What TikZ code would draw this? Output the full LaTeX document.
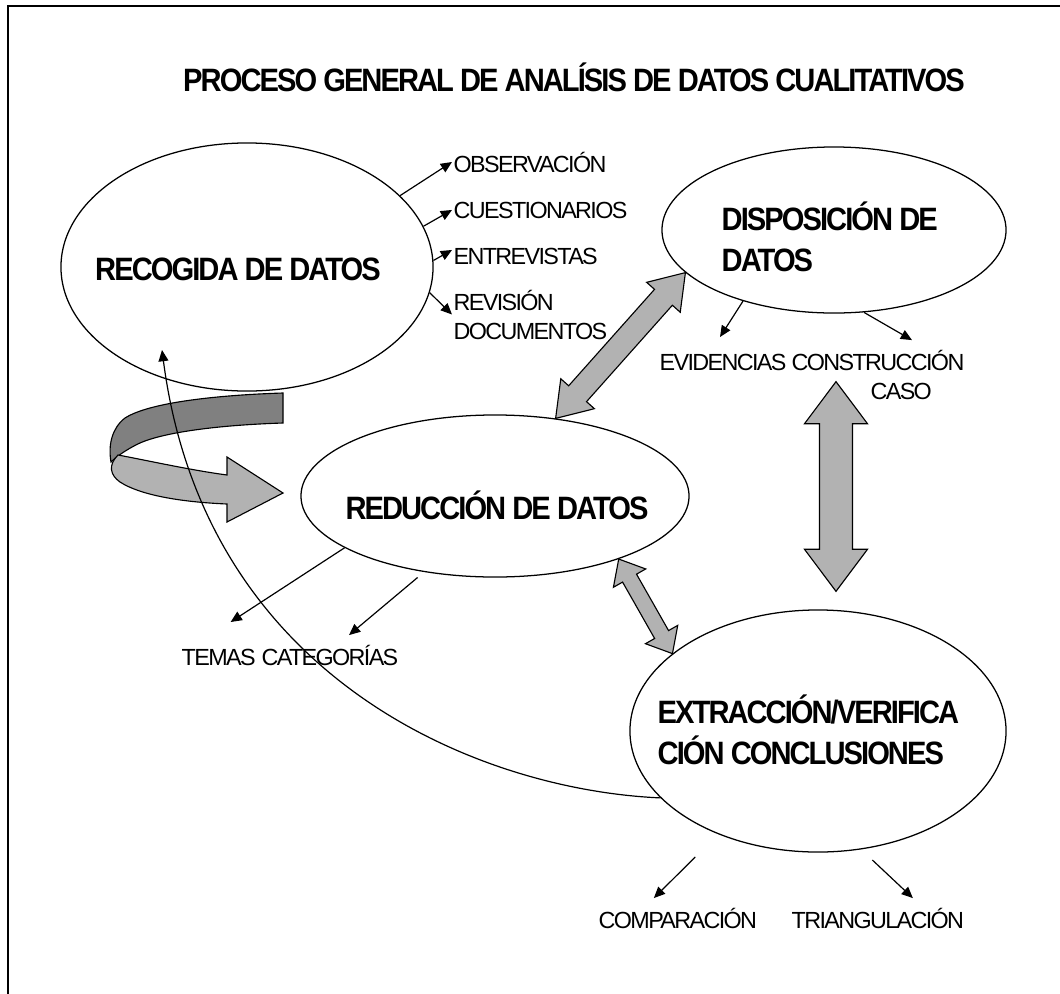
\documentclass[tikz,border=0pt]{standalone}
\usepackage{fontspec}
\setmainfont{Liberation Sans}
\newfontfamily\tightsf{Liberation Sans}[LetterSpace=-7]
\newfontfamily\condsf{Liberation Sans}[FakeStretch=0.9, LetterSpace=-6]
\usetikzlibrary{shapes.geometric,arrows.meta,calc}

\tikzset{
  bubble/.style={ellipse, draw, line width=0.9pt, inner sep=0pt},
  bigtext/.style={font=\condsf\bfseries\fontsize{23}{29}\selectfont, inner sep=1pt},
  smalltext/.style={font=\tightsf\fontsize{16.6}{20.6}\selectfont, inner sep=1pt},
  thinarrow/.style={line width=0.85pt, -{Triangle[length=8pt,width=7pt]}},
  blockarrow/.style={draw, line width=0.8pt, fill=black!30, line join=miter},
}

% gray double arrow: from, to, half shaft, half head, head length
\newcommand{\dblarrow}[5]{%
  \draw[blockarrow] let \p1=($(#2)-(#1)$), \n1={atan2(\y1,\x1)} in
    (#1) -- ($(#1)+(\n1:#5)+(\n1+90:#4)$) -- ($(#1)+(\n1:#5)+(\n1+90:#3)$)
    -- ($(#2)+(\n1+180:#5)+(\n1+90:#3)$) -- ($(#2)+(\n1+180:#5)+(\n1+90:#4)$)
    -- (#2) -- ($(#2)+(\n1+180:#5)+(\n1-90:#4)$) -- ($(#2)+(\n1+180:#5)+(\n1-90:#3)$)
    -- ($(#1)+(\n1:#5)+(\n1-90:#3)$) -- ($(#1)+(\n1:#5)+(\n1-90:#4)$) -- cycle;}

\begin{document}
\begin{tikzpicture}[x=0.025cm, y=-0.025cm]
  \useasboundingbox (0,0) rectangle (1060,994);
  \draw[line width=1.4pt] (8,994) -- (8,6) -- (1060,6);

  \node[bigtext, anchor=base] (title) at (574,91)
    {PROCESO GENERAL DE ANALÍSIS DE DATOS CUALITATIVOS};

  % the four stages
  \node[bubble, minimum width=9.3cm, minimum height=6.2cm] (recogida) at (247,267) {};
  \node[bubble, minimum width=8.6cm, minimum height=4.15cm] (disposicion) at (834,230) {};
  \node[bubble, minimum width=9.7cm, minimum height=4.05cm] (reduccion) at (495,496) {};
  \node[bubble, minimum width=9.4cm, minimum height=6.05cm] (extraccion) at (818,731) {};

  % multi-line nodes: base is the last line
  \node[bigtext, anchor=base] (recogida-txt) at (238,280) {RECOGIDA DE DATOS};
  \node[bigtext, anchor=base west, align=left] (disposicion-txt) at (720,271) {DISPOSICIÓN DE\\DATOS};
  \node[bigtext, anchor=base] (reduccion-txt) at (497,519) {REDUCCIÓN DE DATOS};
  \node[bigtext, anchor=base west, align=left] (extraccion-txt) at (656,764) {EXTRACCIÓN/VERIFICA\\CIÓN CONCLUSIONES};

  % sources
  \node[smalltext, anchor=base west] (obs) at (452,172) {OBSERVACIÓN};
  \node[smalltext, anchor=base west] (cues) at (452,218) {CUESTIONARIOS};
  \node[smalltext, anchor=base west] (entr) at (452,264) {ENTREVISTAS};
  \node[smalltext, anchor=base west, align=left] (rev) at (452,339) {REVISIÓN\\DOCUMENTOS};

  \draw[thinarrow] (recogida.25) -- (obs.west);
  \draw[thinarrow] (recogida.13) -- (cues.west);
  \draw[thinarrow] (recogida.2) -- ([shift={(0,-6)}]entr.west);
  \draw[thinarrow] (recogida.-8) -- (rev.west);

  % outputs
  \node[smalltext, anchor=base west] (evid) at (658,370) {EVIDENCIAS};
  \node[smalltext, anchor=base west, align=center] (constr) at (790,399) {CONSTRUCCIÓN\\\hspace*{33pt}CASO};
  \node[smalltext, anchor=base west] (temas) at (180,665) {TEMAS};
  \node[smalltext, anchor=base west] (categ) at (260,665) {CATEGORÍAS};
  \node[smalltext, anchor=base west] (comp) at (597,928) {COMPARACIÓN};
  \node[smalltext, anchor=base west] (triang) at (790,928) {TRIANGULACIÓN};

  \draw[thinarrow] (disposicion.218) -- ([shift={(-3,-15)}]evid.north);
  \draw[thinarrow] (disposicion.290) -- ([shift={(34,-8)}]constr.north);
  \draw[thinarrow] (reduccion.199) -- ([shift={(12,-25)}]temas.north);
  \draw[thinarrow, shorten <=6pt] (reduccion.227) -- ([shift={(19,-8)}]categ.north);
  \draw[thinarrow, shorten <=23pt] (extraccion.226) -- ([shift={(-24,-8)}]comp.north);
  \draw[thinarrow, shorten <=11pt] (extraccion.290) -- ([shift={(35,-8)}]triang.north);

  % twisted ribbon arrow
  \draw[line width=0.8pt, fill=black!50] (283,393) -- (283,423)
    .. controls (220,425) and (165,432) .. (140,443)
    .. controls (125,450) and (115,458) .. (111,462)
    .. controls (108,445) and (112,428) .. (125,418)
    .. controls (150,402) and (220,395) .. cycle;
  \draw[line width=0.8pt, fill=black!30] (118,455)
    .. controls (150,461) and (190,470) .. (227,475) -- (227,457) -- (283,493)
    -- (227,522) -- (227,504)
    .. controls (180,502) and (140,495) .. (120,482)
    .. controls (110,475) and (108,465) .. cycle;

  % feedback
  \coordinate (fb-end) at (162,350);
  \draw[thinarrow] (extraccion.203) .. controls (480,790) and (205,680) .. (fb-end);

  % gray double arrows
  \coordinate (v-top) at ([shift={(2,68)}]disposicion.south);
  \coordinate (v-bot) at ([shift={(18,-18)}]extraccion.north);
  \dblarrow{reduccion.52}{disposicion.196}{8.5pt}{16pt}{23.5pt}
  \dblarrow{v-top}{v-bot}{11.7pt}{22.4pt}{29.9pt}
  \dblarrow{reduccion.333}{extraccion.152}{5.7pt}{13.2pt}{15.6pt}
\end{tikzpicture}
\end{document}
